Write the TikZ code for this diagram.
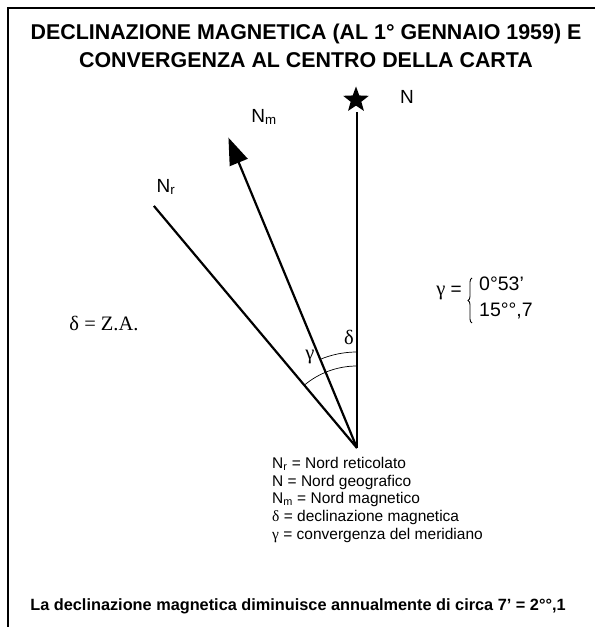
\documentclass[tikz,border=0pt]{standalone}
\usepackage{fontspec}
\setmainfont{Liberation Sans}
\newfontfamily\timesfont{Liberation Serif}
\usetikzlibrary{shapes.geometric,arrows.meta,positioning,decorations.pathreplacing}

\tikzset{
  meridian/.style={line width=2.2pt},
  anglearc/.style={line width=0.7pt},
  dirlabel/.style={font=\fontsize{19}{22}\selectfont,inner sep=0pt},
  greeklabel/.style={font=\timesfont\fontsize{20.5}{22}\selectfont,inner sep=0pt},
}

\begin{document}
\begin{tikzpicture}[x=1pt,y=1pt]
  \useasboundingbox (0,0) rectangle (595,627);

  % Frame (top and left edges only)
  \draw[line width=1.5pt] (8,0) -- (8,619) -- (595,619);

  % Title
  \node[font=\bfseries\fontsize{21.4}{28}\selectfont,align=center,inner sep=0pt]
    (title) at (306,581) {DECLINAZIONE MAGNETICA (AL 1° GENNAIO 1959) E\\
                          CONVERGENZA AL CENTRO DELLA CARTA};

  % Centre of the sheet and the three norths
  \coordinate (O) at (357,179);
  \path (O) ++(90:336)    coordinate (Ngeo);
  \path (O) ++(112.5:336) coordinate (Nmag);
  \path (O) ++(130:316)   coordinate (Nret);

  \node[star,star points=5,star point ratio=2.4,fill,minimum size=27pt,inner sep=0pt]
    (star) at (356,527) {};

  \draw[meridian] (O) -- (Ngeo);
  \draw[meridian,-{Triangle[length=27pt,width=19pt]}] (O) -- (Nmag);
  \draw[meridian] (O) -- (Nret);

  % Labels of the norths
  \node[dirlabel] (lblN)  at (407,530) {N};
  \node[dirlabel] (lblNm) at (264,510) {N\textsubscript{m}};
  \node[dirlabel] (lblNr) at (166,440) {N\textsubscript{r}};

  % Angle arcs
  \draw[anglearc] (O) ++(90:96) arc(90:112.5:96);
  \draw[anglearc] (O) ++(90:82) arc(90:130:82);
  \node[greeklabel] (delta) at (349,290) {δ};
  \node[greeklabel] (gamma) at (310,270) {γ};

  % Values
  \node[greeklabel] (za) at (104,304) {δ = Z.A.};
  \node[font=\fontsize{19}{22}\selectfont,inner sep=0pt,anchor=east]
    (gammaeq) at (462,334) {{\timesfont\fontsize{20.5}{22}\selectfont γ} =};
  \coordinate (braceB) at (472,304);
  \coordinate (braceT) at (472,349);
  \draw[line width=0.9pt,decorate,decoration={brace,amplitude=4pt}] (braceB) -- (braceT);
  \node[font=\fontsize{19.5}{26}\selectfont,align=left,anchor=west,inner sep=0pt]
    (gammaval) at (479,329) {0°53’\\15°°,7};

  % Legend
  \node[font=\fontsize{15.5}{17.7}\selectfont,align=left,anchor=north west,inner sep=0pt]
    (legend) at (272,170) {N\textsubscript{r} = Nord reticolato\\
                           N = Nord geografico\\
                           N\textsubscript{m} = Nord magnetico\\
                           {\timesfont δ} = declinazione magnetica\\
                           {\timesfont γ} = convergenza del meridiano};

  % Annual variation
  \node[font=\bfseries\fontsize{16.3}{18}\selectfont,inner sep=0pt]
    (note) at (298,21) {La declinazione magnetica diminuisce annualmente di circa 7’ = 2°°,1};
\end{tikzpicture}
\end{document}
